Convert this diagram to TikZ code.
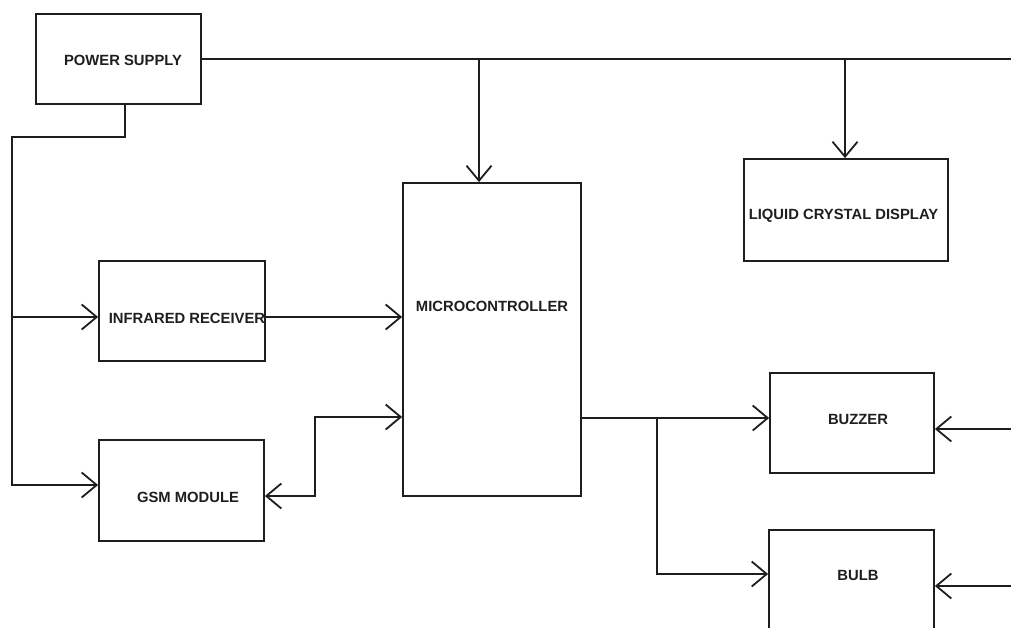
\documentclass[tikz,border=0pt]{standalone}
\usepackage{fontspec}
\setmainfont{Liberation Sans}
\usetikzlibrary{arrows.meta, positioning}
\definecolor{wire}{RGB}{30,30,30}
\tikzset{
  blk/.style={draw=wire, rectangle, inner sep=0pt, line width=1.8pt},
  blklabel/.style={font=\fontsize{14.8}{17}\selectfont\bfseries, text=wire, inner sep=0pt},
  arrow/.style={-{Straight Barb[length=15pt, width=25pt]}, line width=1.8pt, draw=wire},
  biarrow/.style={{Straight Barb[length=15pt, width=25pt]}-{Straight Barb[length=15pt, width=25pt]}, line width=1.8pt, draw=wire},
  wireline/.style={line width=1.8pt, draw=wire},
}

\begin{document}
\begin{tikzpicture}[x=1pt, y=-1pt]
  \useasboundingbox (0,0) rectangle (1011,628);

  % --- Blocks ---
  \node[blk, minimum width=165, minimum height=90] (ps) at (118.5,59) {};
  \node[blk, minimum width=178, minimum height=313] (micro) at (492,339.5) {};
  \node[blk, minimum width=204, minimum height=102] (lcd) at (846,210) {};
  \node[blk, minimum width=166, minimum height=100] (ir) at (182,311) {};
  \node[blk, minimum width=165, minimum height=101] (gsm) at (181.5,490.5) {};
  \node[blk, minimum width=164, minimum height=100] (buzzer) at (852,423) {};
  \node[blk, minimum width=165, minimum height=102] (bulb) at (851.5,581) {};

  % --- Block texts ---
  \node[blklabel] (ps-txt) at (123,60) {POWER SUPPLY};
  \node[blklabel] (micro-txt) at (492,306) {MICROCONTROLLER};
  \node[blklabel] (lcd-txt) at (843.5,216) {LIQUID CRYSTAL DISPLAY};
  \node[blklabel] (ir-txt) at (187,318) {INFRARED RECEIVER};
  \node[blklabel] (gsm-txt) at (188,497) {GSM MODULE};
  \node[blklabel] (buzzer-txt) at (858,419) {BUZZER};
  \node[blklabel] (bulb-txt) at (858,575) {BULB};

  % --- Ports ---
  \coordinate (bus-end) at (1011,59);
  \coordinate (tap-mc) at (479,59);
  \coordinate (tap-lcd) at (845,59);
  \coordinate (ps-tap) at (125,137);
  \coordinate (rail) at (12,137);
  \coordinate (ir-in) at ([yshift=-6pt]ir.west);
  \coordinate (gsm-in) at ([yshift=5.5pt]gsm.west);
  \coordinate (gsm-io) at ([yshift=-5.5pt]gsm.east);
  \coordinate (mc-ir) at ([yshift=22.5pt]micro.west);
  \coordinate (mc-io) at ([yshift=-77.5pt]micro.west);
  \coordinate (mc-out) at ([yshift=-78.5pt]micro.east);
  \coordinate (split) at (657,418);
  \coordinate (bz-src) at (1011,429);
  \coordinate (bl-src) at (1011,586);

  % --- Supply lines ---
  \draw[wireline] (ps.east) -- (bus-end);
  \draw[arrow] (tap-mc) -- (tap-mc |- micro.north);
  \draw[arrow] (tap-lcd) -- (tap-lcd |- lcd.north);
  \draw[arrow] (ps-tap |- ps.south) -- (ps-tap) -- (rail) |- (gsm-in);
  \draw[arrow] (rail |- ir-in) -- (ir-in);

  % --- Signal lines ---
  \draw[arrow] (ir.east |- mc-ir) -- (mc-ir);
  \draw[biarrow] (gsm-io) -- ++(50,0) |- (mc-io);
  \draw[arrow] (mc-out) -- (buzzer.west |- mc-out);
  \draw[arrow] (split) |- ([yshift=7pt]bulb.west);
  \draw[arrow] (bz-src) -- (buzzer.east |- bz-src);
  \draw[arrow] (bl-src) -- (bulb.east |- bl-src);

\end{tikzpicture}
\end{document}
